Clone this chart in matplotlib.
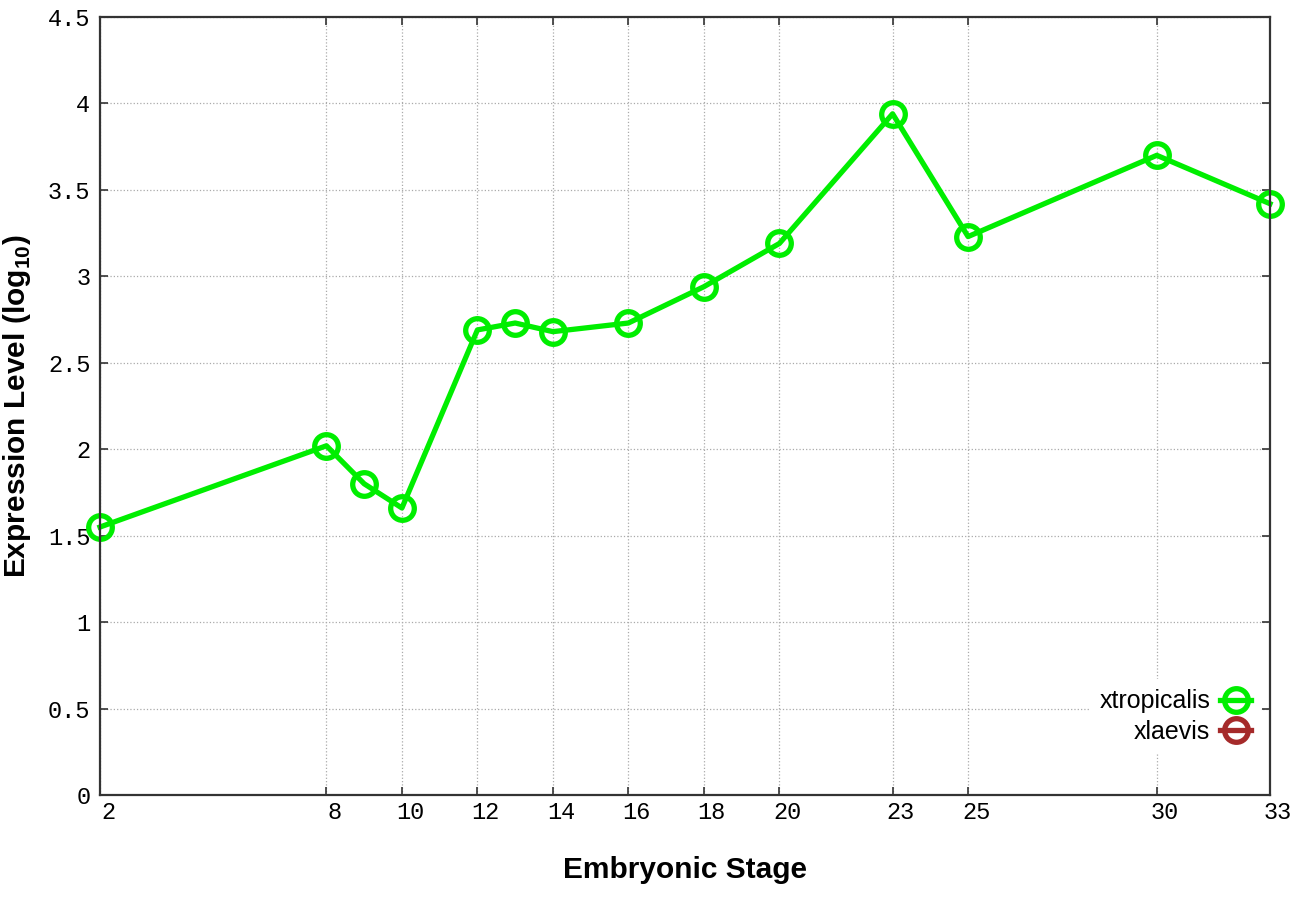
import matplotlib
matplotlib.use('Agg')
import matplotlib.pyplot as plt
import matplotlib.transforms as mtransforms

# embryonic stages and log10 expression
stages = [2, 8, 9, 10, 12, 13, 14, 16, 18, 20, 23, 25, 30, 33]
xtrop = [1.55, 2.02, 1.80, 1.66, 2.69, 2.73, 2.68, 2.73, 2.94, 3.19, 3.94, 3.23, 3.70, 3.42]
xtick_vals = [2, 8, 10, 12, 14, 16, 18, 20, 23, 25, 30, 33]
ytick_vals = [0, 0.5, 1, 1.5, 2, 2.5, 3, 3.5, 4, 4.5]
ytick_labels = ['0', '0.5', '1', '1.5', '2', '2.5', '3', '3.5', '4', '4.5']

plt.rcParams['mathtext.fontset'] = 'custom'
plt.rcParams['mathtext.bf'] = 'Liberation Sans:bold'
plt.rcParams['mathtext.rm'] = 'Liberation Sans'

fig = plt.figure(figsize=(12.96, 9.07), dpi=100)
ax = fig.add_axes([100/1296, 1 - 795/907, 1170/1296, 778/907])

ax.plot(stages, xtrop, color='#00ee00', lw=3.8, marker='o', ms=17,
        mfc='none', mew=3.8, mec='#00ee00', label='xtropicalis', zorder=3,
        clip_on=False)
# empty series, only shown in the legend
ax.plot([], [], color='#a52a2a', lw=3.8, marker='o', ms=17,
        mfc='none', mew=3.8, label='xlaevis')

ax.set_xlim(2, 33)
ax.set_ylim(0, 4.5)
ax.set_xticks(xtick_vals)
ax.set_xticklabels([str(v) for v in xtick_vals], family='Liberation Mono', fontsize=17)
ax.set_yticks(ytick_vals)
ax.set_yticklabels(ytick_labels, family='Liberation Mono', fontsize=17)

ax.tick_params(direction='in', length=6, width=1.2, color='#333333',
               top=True, right=True)
ax.tick_params(axis='x', pad=4)
ax.tick_params(axis='y', pad=7)

# gnuplot puts the x labels a bit to the right of the tick
offset = mtransforms.ScaledTranslation(8/100, 0, fig.dpi_scale_trans)
for lab in ax.get_xticklabels():
    lab.set_transform(lab.get_transform() + offset)

for s in ax.spines.values():
    s.set_color('#333333')
    s.set_linewidth(1.6)
    s.set_zorder(6)

ax.grid(True, linestyle=':', color='#aaaaaa', lw=0.9)

ax.set_xlabel('Embryonic Stage', family='Liberation Sans', fontweight='bold',
              fontsize=21.5, labelpad=23)
ax.set_ylabel(r'Expression Level (log$_{\mathbf{10}}$)', family='Liberation Sans',
              fontweight='bold', fontsize=21.5, labelpad=11)

leg = ax.legend(loc='lower right', bbox_to_anchor=(1.0033, 0.037), markerfirst=False,
                frameon=True, framealpha=1, edgecolor='none', facecolor='white',
                prop={'family': 'Liberation Sans', 'size': 18},
                handlelength=1.25, handletextpad=0.4, labelspacing=0.25)

fig.savefig('out.png', dpi=100)
